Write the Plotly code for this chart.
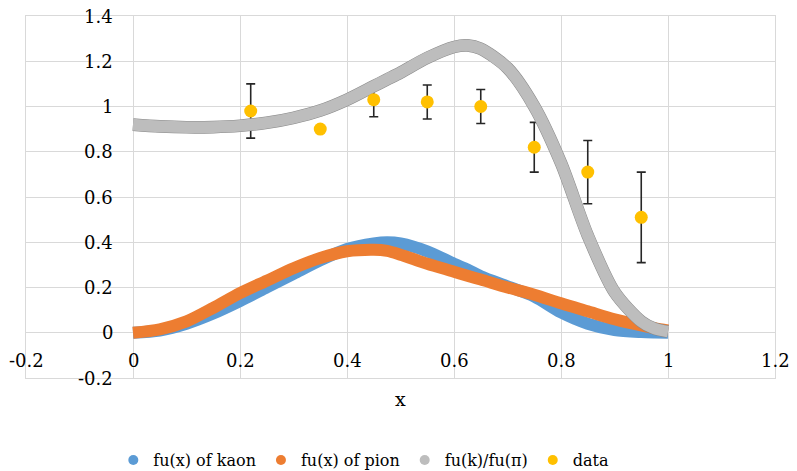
import plotly.graph_objects as go

# ---- data ----
x_grid = [0, 0.05, 0.1, 0.15, 0.2, 0.25, 0.3, 0.35, 0.4, 0.45, 0.475, 0.5,
          0.55, 0.6, 0.625, 0.65, 0.7, 0.75, 0.8, 0.85, 0.9, 0.95, 0.975, 1.0]
kaon = [0, 0.01, 0.04, 0.085, 0.14, 0.2, 0.26, 0.32, 0.37, 0.395, 0.4, 0.395,
        0.36, 0.305, 0.28, 0.25, 0.205, 0.16, 0.09, 0.04, 0.012, 0.003, 0.001, 0.0]
pion = [0, 0.015, 0.05, 0.11, 0.175, 0.23, 0.285, 0.33, 0.36, 0.367, 0.362, 0.345,
        0.305, 0.27, 0.252, 0.235, 0.2, 0.168, 0.13, 0.095, 0.06, 0.032, 0.02, 0.01]
ratio = [0.92, 0.912, 0.908, 0.909, 0.915, 0.928, 0.95, 0.982, 1.03, 1.09, 1.12, 1.15,
         1.215, 1.263, 1.27, 1.255, 1.17, 1.0, 0.75, 0.43, 0.18, 0.05, 0.018, 0.005]

data_x = [0.22, 0.35, 0.45, 0.55, 0.65, 0.75, 0.85, 0.95]
data_y = [0.98, 0.90, 1.03, 1.02, 1.00, 0.82, 0.71, 0.51]
data_err = [0.12, 0.0, 0.075, 0.075, 0.075, 0.11, 0.14, 0.20]

names = ["fu(x) of kaon", "fu(x) of pion", "fu(k)/fu(\u03c0)", "data"]
colors = ["#5B9BD5", "#ED7D31", "#BDBDBD", "#FFC000"]

x_ticks = [-0.2, 0, 0.2, 0.4, 0.6, 0.8, 1, 1.2]
y_ticks = [-0.2, 0, 0.2, 0.4, 0.6, 0.8, 1, 1.2, 1.4]

FONT = "DejaVu Serif"


def fmt(v):
    return "%g" % v


fig = go.Figure()

# curves (hidden from legend)
fig.add_trace(go.Scatter(x=x_grid, y=kaon, mode="lines",
                         line=dict(color=colors[0], width=12, shape="spline", smoothing=0.8),
                         showlegend=False, hoverinfo="skip"))
fig.add_trace(go.Scatter(x=x_grid, y=pion, mode="lines",
                         line=dict(color=colors[1], width=12, shape="spline", smoothing=0.8),
                         showlegend=False, hoverinfo="skip"))
# error bars underneath the ratio curve
fig.add_trace(go.Scatter(x=data_x, y=data_y, mode="markers",
                         marker=dict(size=1, color="rgba(0,0,0,0)"),
                         error_y=dict(type="data", array=data_err, visible=True,
                                      color="#262626", thickness=1.6, width=4.5),
                         showlegend=False, hoverinfo="skip"))
# ratio curve with thin dark edge
fig.add_trace(go.Scatter(x=x_grid, y=ratio, mode="lines",
                         line=dict(color="#8A8A8A", width=12.6, shape="spline", smoothing=0.8),
                         showlegend=False, hoverinfo="skip"))
fig.add_trace(go.Scatter(x=x_grid, y=ratio, mode="lines",
                         line=dict(color=colors[2], width=11.6, shape="spline", smoothing=0.8),
                         showlegend=False, hoverinfo="skip"))
# data markers
fig.add_trace(go.Scatter(x=data_x, y=data_y, mode="markers",
                         marker=dict(size=13, color=colors[3]),
                         showlegend=False))

# legend entries (circle symbols)
for n, c in zip(names, colors):
    fig.add_trace(go.Scatter(x=[None], y=[None], mode="markers", name=n,
                             marker=dict(size=10, color=c)))

annotations = []
for v in y_ticks:
    annotations.append(dict(x=0, y=v, xref="x", yref="y", text=fmt(v), showarrow=False,
                            xanchor="right", yanchor="middle", xshift=-18,
                            font=dict(family=FONT, size=18, color="#000000")))
for v in x_ticks:
    annotations.append(dict(x=v, y=0, xref="x", yref="y", text=fmt(v), showarrow=False,
                            xanchor="center", yanchor="middle", yshift=-28,
                            font=dict(family=FONT, size=18, color="#000000")))
annotations.append(dict(x=0.5, y=0, xref="paper", yref="paper", text="x", showarrow=False,
                        xanchor="center", yanchor="middle", yshift=-21,
                        font=dict(family=FONT, size=19, color="#000000")))

grid = "#D9D9D9"
fig.update_layout(
    width=797, height=471,
    margin=dict(l=26, r=22, t=16, b=93, autoexpand=False),
    paper_bgcolor="white", plot_bgcolor="white",
    font=dict(family=FONT, size=16, color="#000000"),
    xaxis=dict(range=[-0.2, 1.2], dtick=0.2, tick0=0, showgrid=True, gridcolor=grid, gridwidth=1,
               zeroline=True, zerolinecolor=grid, zerolinewidth=1,
               showline=True, linecolor=grid, mirror=True, showticklabels=False, ticks=""),
    yaxis=dict(range=[-0.2, 1.4], dtick=0.2, tick0=0, showgrid=True, gridcolor=grid, gridwidth=1,
               zeroline=True, zerolinecolor=grid, zerolinewidth=1,
               showline=True, linecolor=grid, mirror=True, showticklabels=False, ticks=""),
    legend=dict(orientation="h", x=0.451, xanchor="center", y=-0.18, yanchor="top", yref="paper",
                font=dict(family=FONT, size=16, color="#000000"), bgcolor="rgba(0,0,0,0)"),
    annotations=annotations,
    showlegend=True,
)

fig.write_html("out.html")
